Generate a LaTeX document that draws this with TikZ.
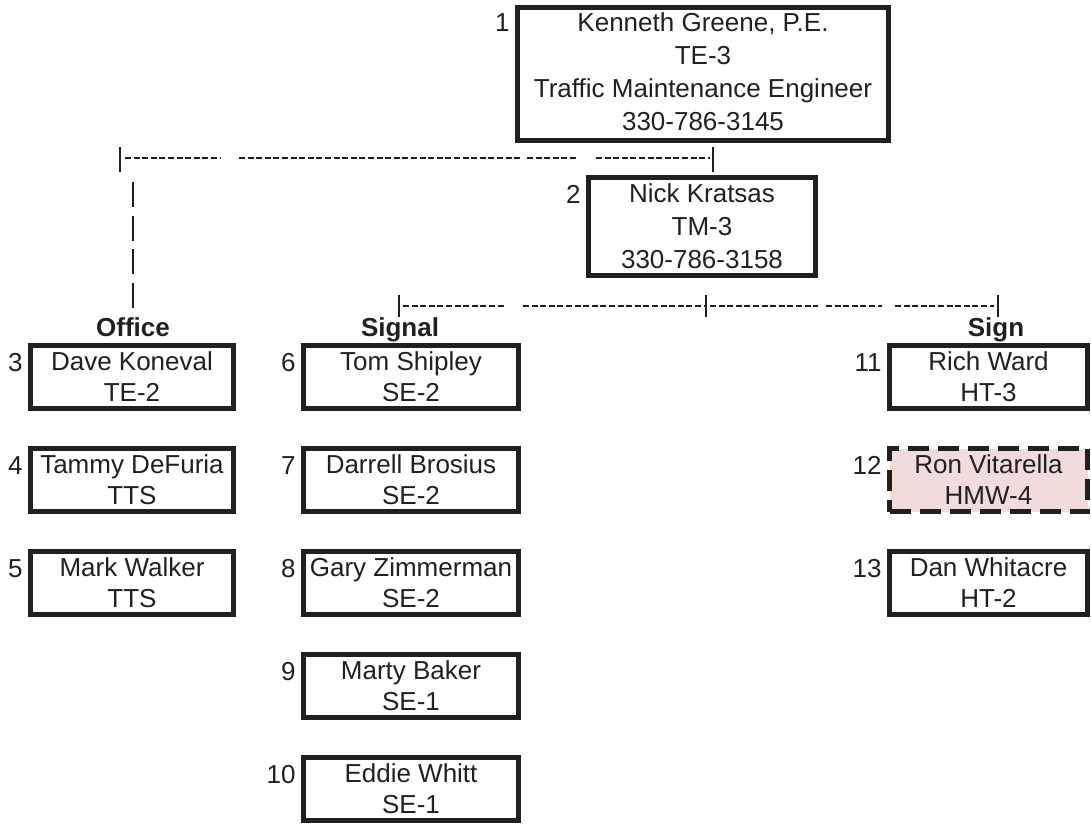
\documentclass[tikz,border=0pt]{standalone}
\usepackage{fontspec}
\setmainfont{Liberation Sans}
\usetikzlibrary{positioning}
\definecolor{inkgray}{HTML}{231F20}
\definecolor{vacantpink}{HTML}{F2DCDB}
\tikzset{
  staffbox/.style={draw=inkgray, line width=2.5pt, align=center, inner sep=1pt,
    minimum height=31.5pt, text=inkgray, font=\fontsize{13}{15.5}\selectfont},
  headbox/.style={staffbox, font=\fontsize{13}{16.5}\selectfont},
  vacantbox/.style={staffbox, fill=vacantpink, dash pattern=on 10.5pt off 4.5pt},
  posnum/.style={anchor=base east, inner sep=0pt, text=inkgray, font=\fontsize{13}{15.5}\selectfont},
  grouphead/.style={anchor=base, inner sep=0pt, text=inkgray, font=\fontsize{13}{15.5}\selectfont\bfseries},
  hyphenline/.style={draw=inkgray, line width=1.1pt, dash pattern=on 3pt off 1.3pt},
  pipeline/.style={draw=inkgray, line width=1pt, dash pattern=on 12.5pt off 4.25pt},
  pipemark/.style={draw=inkgray, line width=0.9pt}
}
\begin{document}
\begin{tikzpicture}[x=0.5pt, y=-0.5pt]
\def\rowTop{377}
\def\rowSep{103}
\def\numSep{2.5pt}
\def\numDrop{14pt}
\useasboundingbox (0,0) rectangle (1091,825);
\node[headbox, minimum width=185.5pt, minimum height=66.5pt, text depth=2.5pt] (p1) at (703,74)
  {Kenneth Greene, P.E.\\TE-3\\Traffic Maintenance Engineer\\330-786-3145};
\node[headbox, minimum width=113.5pt, minimum height=49pt] (p2) at (702,226.5)
  {Nick Kratsas\\TM-3\\330-786-3158};
\foreach \n/\who/\grade [count=\k from 0] in {3/Dave Koneval/TE-2, 4/Tammy DeFuria/TTS, 5/Mark Walker/TTS}
  \node[staffbox, minimum width=101.5pt] (p\n) at (132,\rowTop+\k*\rowSep) {\who\\\grade};
\foreach \n/\who/\grade [count=\k from 0] in {6/Tom Shipley/SE-2, 7/Darrell Brosius/SE-2, 8/Gary Zimmerman/SE-2, 9/Marty Baker/SE-1, 10/Eddie Whitt/SE-1}
  \node[staffbox, minimum width=107.5pt] (p\n) at (411,\rowTop+\k*\rowSep) {\who\\\grade};
\foreach \n/\who/\grade/\look [count=\k from 0] in {11/Rich Ward/HT-3/staffbox, 12/Ron Vitarella/HMW-4/vacantbox, 13/Dan Whitacre/HT-2/staffbox}
  \node[\look, minimum width=99pt] (p\n) at (988.5,\rowTop+\k*\rowSep) {\who\\\grade};
\node[posnum] (n1) at ([xshift=-\numSep, yshift=-13pt]p1.north west) {1};
\foreach \n in {2,...,13}
  \node[posnum] (n\n) at ([xshift=-\numSep, yshift=-\numDrop]p\n.north west) {\n};
\node[grouphead] (hOffice) at (133,336) {Office};
\node[grouphead] (hSignal) at (400,336) {Signal};
\node[grouphead] (hSign) at (996,336) {Sign};
\coordinate (topL) at (120,158);
\coordinate (topR) at (713,158);
\coordinate (midL) at (399,306);
\coordinate (midC) at (706,306);
\coordinate (midR) at (998,306);
\foreach \a/\b in {125/220, 239/521, 527/577, 596/710}
  \draw[hyphenline] (\a,158) -- (\b,158);
\foreach \a/\b in {403/504, 523/704, 710/818, 826/882, 895/994}
  \draw[hyphenline] (\a,306) -- (\b,306);
\foreach \c in {topL, topR}
  \draw[pipemark] ([yshift=5.5pt]\c) -- ([yshift=-7pt]\c);
\foreach \c in {midL, midC, midR}
  \draw[pipemark] ([yshift=5.5pt]\c) -- ([yshift=-5.5pt]\c);
\draw[pipeline] (133,182) -- (hOffice.north |- 0,308);
\end{tikzpicture}
\end{document}
